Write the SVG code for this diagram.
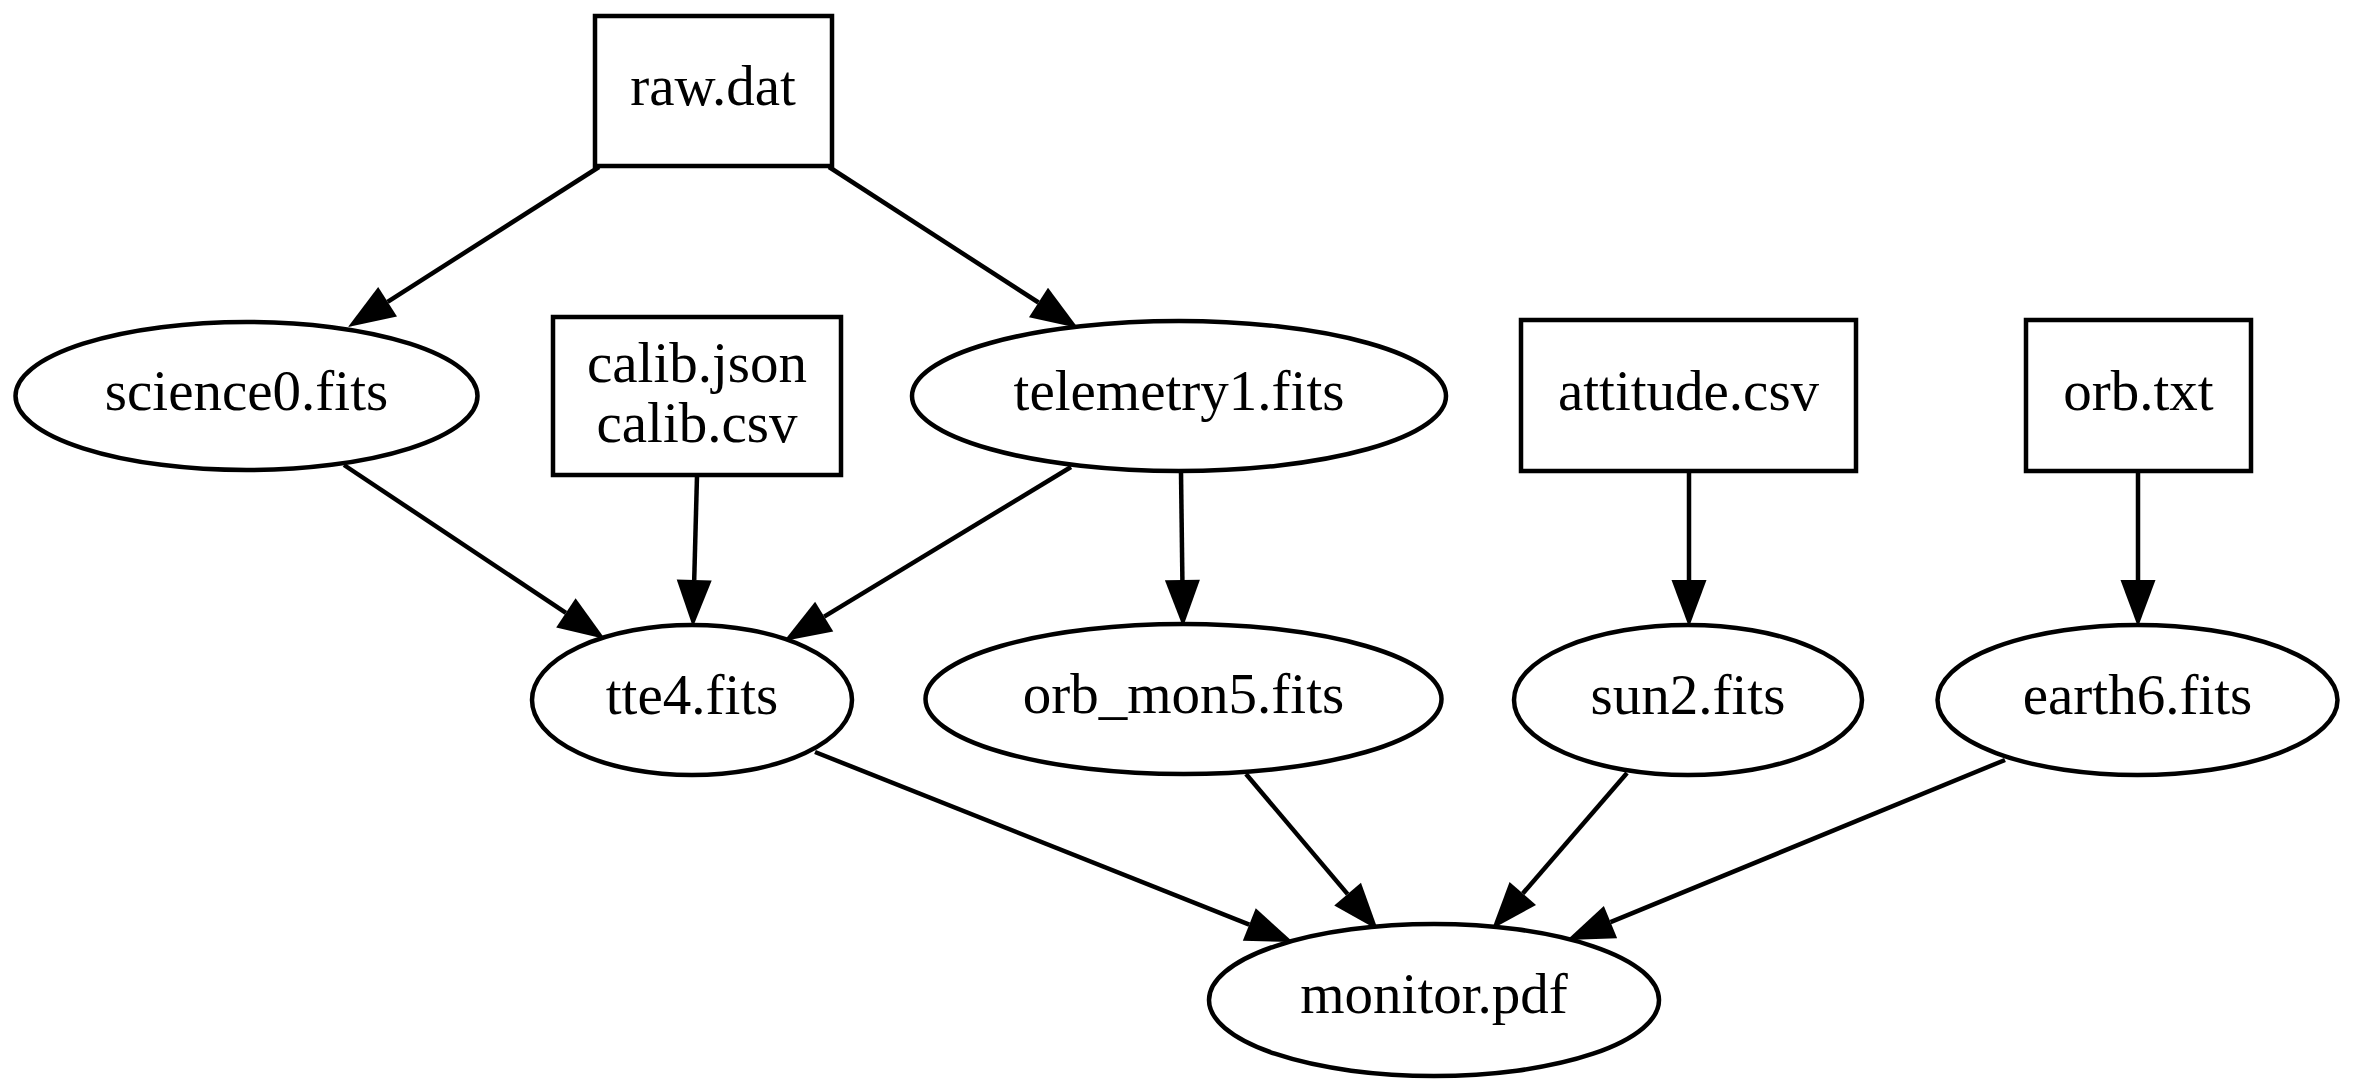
<svg xmlns="http://www.w3.org/2000/svg" width="2356" height="1092" viewBox="0 0 2356 1092">
<defs>
<style>
.n{fill:#fff;stroke:#000;stroke-width:4.5}
.t{font-family:"Liberation Serif","Times New Roman",serif;font-size:57px;fill:#000;text-anchor:middle}
.e{stroke:#000;stroke-width:4.5;fill:none;marker-end:url(#arr)}
</style>
<marker id="arr" markerUnits="userSpaceOnUse" markerWidth="48" markerHeight="36" refX="0" refY="17.5" orient="auto" overflow="visible">
<path d="M0,0 L47,17.5 L0,35 Z" fill="#000"/>
</marker>
</defs>
<rect width="2356" height="1092" fill="#fff"/>
<g id="edges">
<line class="e" x1="599" y1="167" x2="387.6" y2="301.8"/>
<line class="e" x1="829" y1="167" x2="1038.5" y2="302.5"/>
<line class="e" x1="344" y1="465" x2="565.9" y2="612.9"/>
<line class="e" x1="697" y1="476" x2="694.2" y2="580"/>
<line class="e" x1="1071" y1="467" x2="824.2" y2="616.6"/>
<line class="e" x1="1181" y1="472" x2="1182.4" y2="580"/>
<line class="e" x1="1689" y1="472" x2="1689" y2="580"/>
<line class="e" x1="2138" y1="472" x2="2138" y2="580"/>
<line class="e" x1="815" y1="752" x2="1249.3" y2="924.6"/>
<line class="e" x1="1246" y1="774" x2="1347.6" y2="894.1"/>
<line class="e" x1="1627" y1="773" x2="1522.8" y2="893.5"/>
<line class="e" x1="2005" y1="760" x2="1610.5" y2="922.1"/>
</g>
<g id="raw"><rect class="n" x="595" y="16" width="237" height="150"/><text class="t" x="713" y="105">raw.dat</text></g>
<g id="science0"><ellipse class="n" cx="246.5" cy="396" rx="231" ry="74"/><text class="t" x="246.5" y="410">science0.fits</text></g>
<g id="calib"><rect class="n" x="553" y="317" width="288" height="158"/><text class="t" x="697" y="382">calib.json</text><text class="t" x="697" y="442">calib.csv</text></g>
<g id="telemetry1"><ellipse class="n" cx="1179" cy="396" rx="267" ry="75"/><text class="t" x="1179" y="410">telemetry1.fits</text></g>
<g id="attitude"><rect class="n" x="1521" y="320" width="335" height="151"/><text class="t" x="1688.5" y="410">attitude.csv</text></g>
<g id="orb"><rect class="n" x="2026" y="320" width="225" height="151"/><text class="t" x="2138.5" y="410">orb.txt</text></g>
<g id="tte4"><ellipse class="n" cx="692" cy="700" rx="160" ry="75"/><text class="t" x="692" y="714">tte4.fits</text></g>
<g id="orb_mon5"><ellipse class="n" cx="1183.5" cy="699" rx="258" ry="75"/><text class="t" x="1183.5" y="713">orb_mon5.fits</text></g>
<g id="sun2"><ellipse class="n" cx="1688" cy="700" rx="174" ry="75"/><text class="t" x="1688" y="714">sun2.fits</text></g>
<g id="earth6"><ellipse class="n" cx="2137.5" cy="700" rx="200" ry="75"/><text class="t" x="2137.5" y="714">earth6.fits</text></g>
<g id="monitor"><ellipse class="n" cx="1434" cy="1000" rx="225" ry="76"/><text class="t" x="1434" y="1013">monitor.pdf</text></g>
</svg>
